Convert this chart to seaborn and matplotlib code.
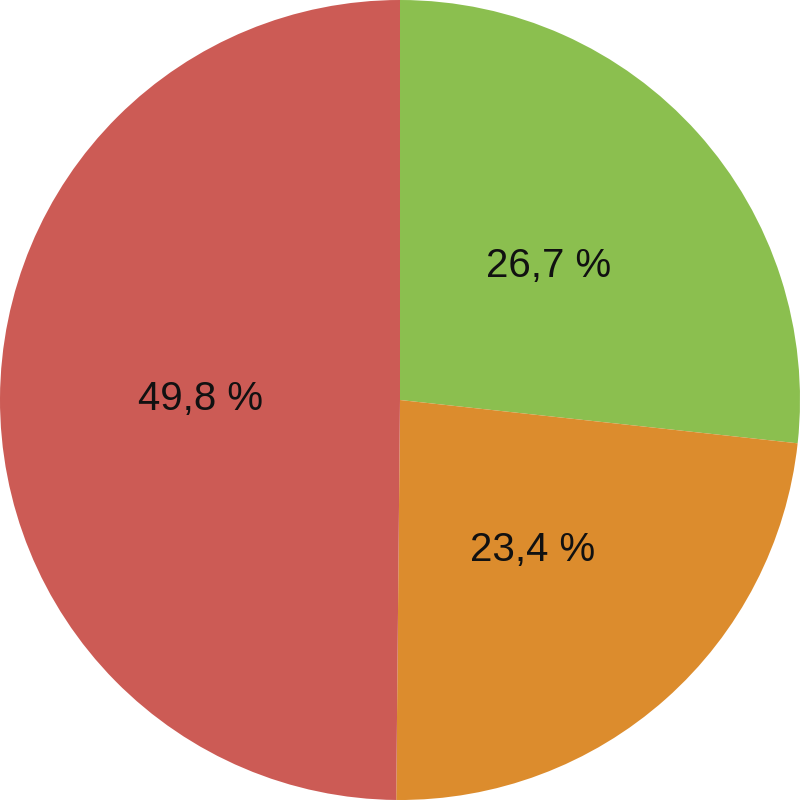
import matplotlib
matplotlib.use("Agg")
import matplotlib.pyplot as plt
import seaborn as sns

# slice data, clockwise from 12 o'clock
segments = ["Green", "Orange", "Red"]
shares = [26.7, 23.4, 49.8]
slice_colors = ["#8bbf4f", "#dc8c2d", "#cc5b55"]

sns.set_style("white")
plt.rcParams['font.family'] = ['Liberation Sans', 'DejaVu Sans']

fig = plt.figure(figsize=(8, 8), dpi=100)
ax = fig.add_axes([0, 0, 1, 1])

wedges, texts, autotexts = ax.pie(
    shares,
    colors=slice_colors,
    startangle=90,
    counterclock=False,
    radius=1.0,
    pctdistance=0.5,
    autopct=lambda p: f"{p:.1f} %".replace(".", ","),
    wedgeprops={"linewidth": 0},
    textprops={"fontsize": 29, "color": "#111111"},
)

ax.set_xlim(-1.0, 1.0)
ax.set_ylim(-1.0, 1.0)
ax.set_aspect("equal")
ax.axis("off")

fig.savefig("out.png", dpi=100)
plt.close(fig)
